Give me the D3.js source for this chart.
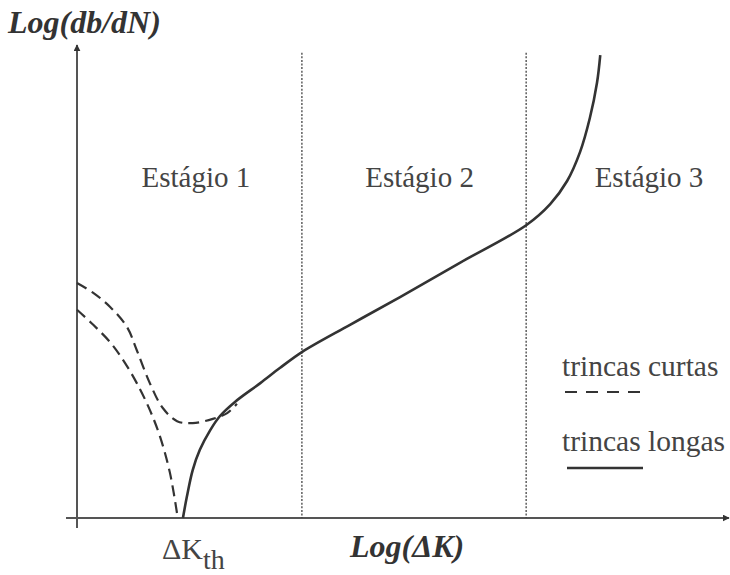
<!DOCTYPE html>
<html>
<head>
<meta charset="utf-8">
<script src="https://cdn.jsdelivr.net/npm/d3@7"></script>
<style>
  html, body { margin: 0; padding: 0; background: #fff; }
  svg { display: block; }
  svg text { font-family: "Liberation Serif", "Times New Roman", Times, serif; }
</style>
</head>
<body>
<svg id="chart" width="730" height="575"></svg>
<script>
// Crack growth rate curve, Log(db/dN) vs Log(ΔK), in arbitrary log units (0–10).

// Long cracks: threshold ΔKth, stage 2 Paris regime, stage 3 fast fracture
const longX = [1.63, 1.69, 1.78, 1.89, 2.05, 2.20, 2.43, 2.82, 3.12, 3.46, 4.20, 4.97, 5.89, 6.91, 7.28, 7.54, 7.74, 7.89, 8.00, 8.05];
const longY = [0.00, 0.45, 1.02, 1.45, 1.87, 2.17, 2.47, 2.87, 3.19, 3.53, 4.11, 4.70, 5.43, 6.23, 6.68, 7.17, 7.79, 8.51, 9.26, 9.85];

// Short cracks, upper branch (dips, then merges into the long-crack curve)
const shortUpperX = [0.00, 0.25, 0.51, 0.77, 0.92, 1.12, 1.32, 1.54, 1.78, 2.09, 2.31, 2.46];
const shortUpperY = [5.00, 4.79, 4.49, 4.06, 3.57, 2.87, 2.34, 2.06, 2.02, 2.11, 2.23, 2.43];

// Short cracks, lower branch (falls down to the axis)
const shortLowerX = [0.00, 0.25, 0.51, 0.71, 0.92, 1.12, 1.28, 1.43, 1.55];
const shortLowerY = [4.43, 4.11, 3.74, 3.36, 2.87, 2.30, 1.72, 0.96, 0.00];

// Stage boundaries and labels
const stageBounds = [3.46, 6.91];
const stageLabels = ["Estágio 1", "Estágio 2", "Estágio 3"];
const stageLabelX = [1.83, 5.27, 8.80];

const legendLabels = ["trincas curtas", "trincas longas"];

const svg = d3.select("#chart");
const x = d3.scaleLinear().domain([0, 10]).range([77, 727]);
const y = d3.scaleLinear().domain([0, 10]).range([518, 48]);

const ink = "#333";
const axisInk = "#555";

// arrow marker
svg.append("defs").append("marker")
  .attr("id", "arrow")
  .attr("viewBox", "0 0 10 10")
  .attr("refX", 9).attr("refY", 5)
  .attr("markerWidth", 7).attr("markerHeight", 7)
  .attr("markerUnits", "userSpaceOnUse")
  .attr("orient", "auto")
  .append("path").attr("d", "M0,0L10,5L0,10Z").attr("fill", "#333");

// axes
svg.append("line")
  .attr("x1", x(0)).attr("y1", y(0) + 10)
  .attr("x2", x(0)).attr("y2", y(10) - 3)
  .attr("stroke", axisInk).attr("stroke-width", 2)
  .attr("marker-end", "url(#arrow)");
svg.append("line")
  .attr("x1", x(0) - 11).attr("y1", y(0))
  .attr("x2", x(10) + 2).attr("y2", y(0))
  .attr("stroke", axisInk).attr("stroke-width", 2)
  .attr("marker-end", "url(#arrow)");

// stage boundaries (dotted)
svg.selectAll("line.stage")
  .data(stageBounds)
  .join("line")
  .attr("class", "stage")
  .attr("x1", d => x(d)).attr("x2", d => x(d))
  .attr("y1", y(9.9)).attr("y2", y(0))
  .attr("stroke", "#444").attr("stroke-width", 1.3)
  .attr("stroke-dasharray", "2,1.6");

// stage labels
svg.selectAll("text.stage")
  .data(stageLabels)
  .join("text")
  .attr("class", "stage")
  .attr("x", (d, i) => x(stageLabelX[i]))
  .attr("y", 187)
  .attr("text-anchor", "middle")
  .attr("font-size", 29)
  .attr("fill", "#444")
  .text(d => d);

const line = d3.line()
  .x(d => x(d[0]))
  .y(d => y(d[1]))
  .curve(d3.curveCatmullRom.alpha(0.5));

const zip = (a, b) => a.map((v, i) => [v, b[i]]);

// short-crack branches
[zip(shortUpperX, shortUpperY), zip(shortLowerX, shortLowerY)].forEach(pts => {
  svg.append("path")
    .attr("d", line(pts))
    .attr("fill", "none")
    .attr("stroke", ink)
    .attr("stroke-width", 2.2)
    .attr("stroke-dasharray", "11,6");
});

// long-crack curve
svg.append("path")
  .attr("d", line(zip(longX, longY)))
  .attr("fill", "none")
  .attr("stroke", ink)
  .attr("stroke-width", 2.6);

// axis titles
svg.append("text")
  .attr("x", 8).attr("y", 33)
  .attr("font-size", 32)
  .attr("font-weight", "bold")
  .attr("font-style", "italic")
  .attr("fill", "#333")
  .text("Log(db/dN)");

svg.append("text")
  .attr("x", 350).attr("y", 557)
  .attr("font-size", 32)
  .attr("font-weight", "bold")
  .attr("font-style", "italic")
  .attr("fill", "#333")
  .text("Log(ΔK)");

// threshold label
const th = svg.append("text")
  .attr("x", 162).attr("y", 559)
  .attr("font-size", 30)
  .attr("fill", "#444");
th.append("tspan").text("ΔK");
th.append("tspan").attr("dy", 10).attr("font-size", 28).text("th");

// legend
const legend = svg.append("g");
legend.append("text")
  .attr("x", 562).attr("y", 376)
  .attr("font-size", 29.5).attr("fill", "#444")
  .text(legendLabels[0]);
legend.append("line")
  .attr("x1", 565).attr("x2", 641).attr("y1", 392).attr("y2", 392)
  .attr("stroke", ink).attr("stroke-width", 2.2)
  .attr("stroke-dasharray", "12,9");
legend.append("text")
  .attr("x", 562).attr("y", 451)
  .attr("font-size", 29.5).attr("fill", "#444")
  .text(legendLabels[1]);
legend.append("line")
  .attr("x1", 567).attr("x2", 643).attr("y1", 468).attr("y2", 468)
  .attr("stroke", ink).attr("stroke-width", 2.6);
</script>
</body>
</html>
